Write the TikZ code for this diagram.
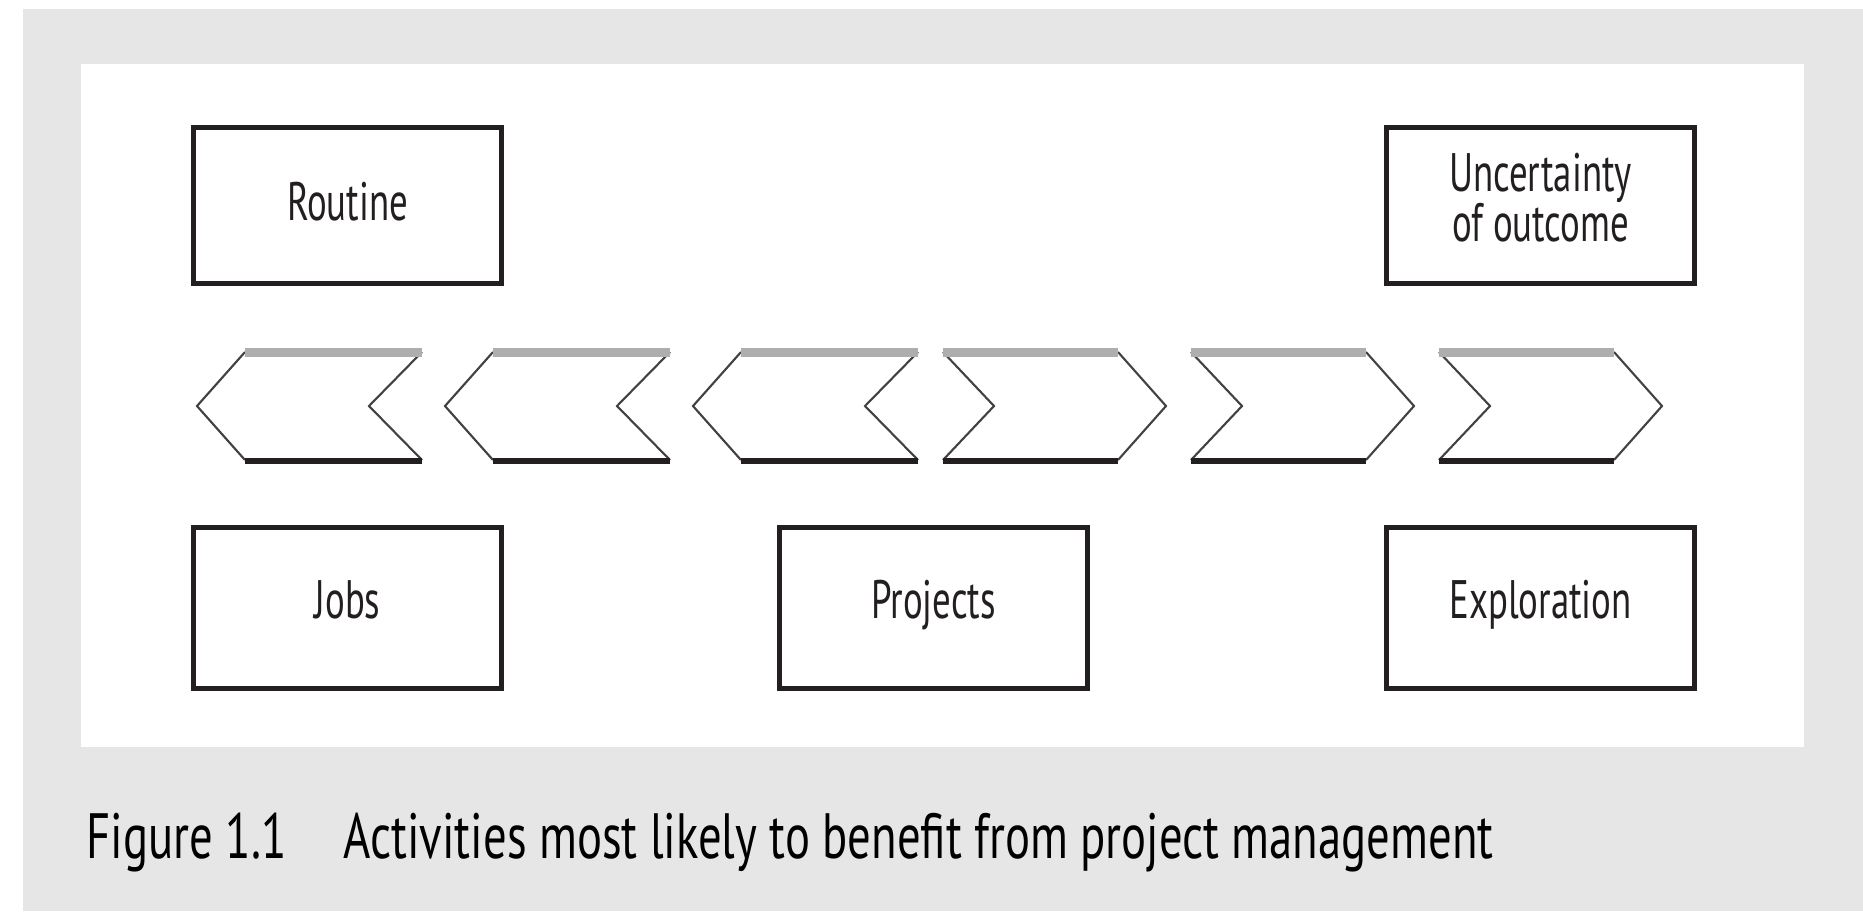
\documentclass[tikz,border=0pt]{standalone}
\usepackage{fontspec}
\newfontfamily\figfont{PT Sans}[FakeStretch=0.68]
\newfontfamily\capfont{PT Sans}[FakeStretch=0.73]
\definecolor{panelgray}{HTML}{E6E6E6}
\definecolor{chevgray}{HTML}{AEAEAE}
\definecolor{boxline}{HTML}{231F20}

\begin{document}
\begin{tikzpicture}[x=0.01cm, y=-0.01cm,
	box/.style={draw=boxline, line width=1.55pt, fill=white, inner sep=0pt,
		minimum width=3.08cm, minimum height=1.56cm, align=center, text=boxline,
		text height=0.38cm, text depth=0.09cm,
		font=\figfont\fontsize{15.4}{14.2}\selectfont},
	tall/.style={minimum height=1.61cm, text depth=0.18cm},
	twoline/.style={text height=0.88cm, text depth=0.17cm},
	chevside/.style={draw=boxline!85, line width=0.6pt},
	chevtop/.style={draw=chevgray, line width=2.8pt},
	chevbot/.style={draw=boxline, line width=1.7pt}]

\useasboundingbox (0,0) rectangle (1863,911);
\fill[panelgray] (23,9) rectangle (1863,911);
\fill[white] (81,64) rectangle (1804,747);

\node[box]			(routine)	at (347.5,205.5)	{Routine};
\node[box,twoline]	(uncert)	at (1540.5,205.5)	{Uncertainty\\of outcome};
\node[box,tall]		(jobs)		at (347.5,608)		{Jobs};
\node[box,tall]		(proj)		at (933.5,608)		{Projects};
\node[box,tall]		(explor)	at (1540.5,608)		{Exploration};

\foreach \i [evaluate=\i as \x using 197+248*\i] in {0,1,2} {
	\draw[chevside] (\x+48,352) -- (\x,406) -- (\x+48,460);
	\draw[chevside] (\x+225,352) -- (\x+172,406) -- (\x+225,460);
	\draw[chevtop] (\x+48,352.5) -- (\x+225,352.5);
	\draw[chevbot] (\x+48,460.5) -- (\x+225,460.5);
}
\foreach \i [evaluate=\i as \x using 943+248*\i] in {0,1,2} {
	\draw[chevside] (\x,352) -- (\x+51,406) -- (\x,460);
	\draw[chevside] (\x+175,352) -- (\x+223,406) -- (\x+175,460);
	\draw[chevtop] (\x,352.5) -- (\x+175,352.5);
	\draw[chevbot] (\x,460.5) -- (\x+175,460.5);
}

\node[anchor=base west, inner sep=0pt, text=black,
	font=\capfont\fontsize{18.2}{20}\selectfont] (caption) at (86,858)
	{Figure 1.1\hspace{0.57cm}Activities most likely to benefit from project management};

\end{tikzpicture}
\end{document}
